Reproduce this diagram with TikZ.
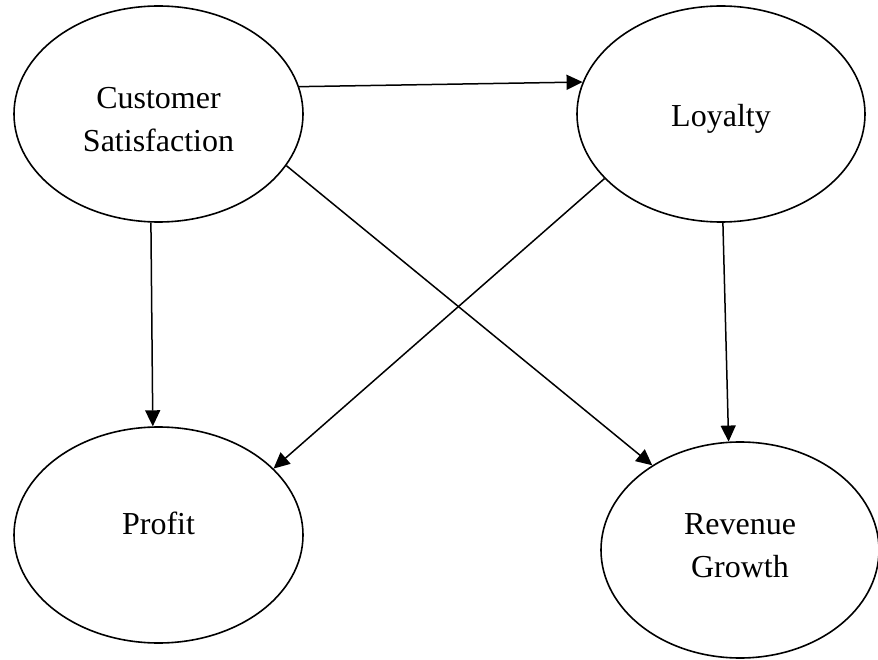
\documentclass[tikz,border=0pt]{standalone}
\usepackage{fontspec}
\setmainfont{Liberation Serif}
\usetikzlibrary{shapes.geometric,arrows.meta}
\begin{document}
\begin{tikzpicture}[x=1pt,y=-1pt,
  construct/.style={draw,ellipse,line width=1.6pt,inner sep=0pt,
    minimum width=289pt,minimum height=216pt},
  caption/.style={align=center,font=\fontsize{32}{43}\selectfont,inner sep=0pt},
  link/.style={line width=1.5pt,-{Triangle[length=16pt,width=15pt]}}]
\useasboundingbox (0,0) rectangle (878,660);

% constructs, each with its caption set slightly off centre
\node[construct,label={[caption,yshift=-6pt]center:{Customer\\Satisfaction}}] (cs) at (158.5,114) {};
\node[construct,minimum width=288pt,label={[caption,yshift=-5pt]center:Loyalty}] (loy) at (721,114) {};
\node[construct,label={[caption,yshift=12pt]center:Profit}] (pro) at (158.5,535) {};
\node[construct,minimum width=278pt,label={[caption,yshift=4pt]center:{Revenue\\Growth}}] (rev) at (740,550) {};

% paths between constructs
\draw[link] (cs.11.4)   -- (loy.167.9);
\draw[link] (cs.266.6)  -- (pro.93.4);
\draw[link] (cs.-22.3)  -- (rev.136.7);
\draw[link] (loy.209.7) -- (pro.30.7);
\draw[link] (loy.271)   -- (rev.96.3);
\end{tikzpicture}
\end{document}
